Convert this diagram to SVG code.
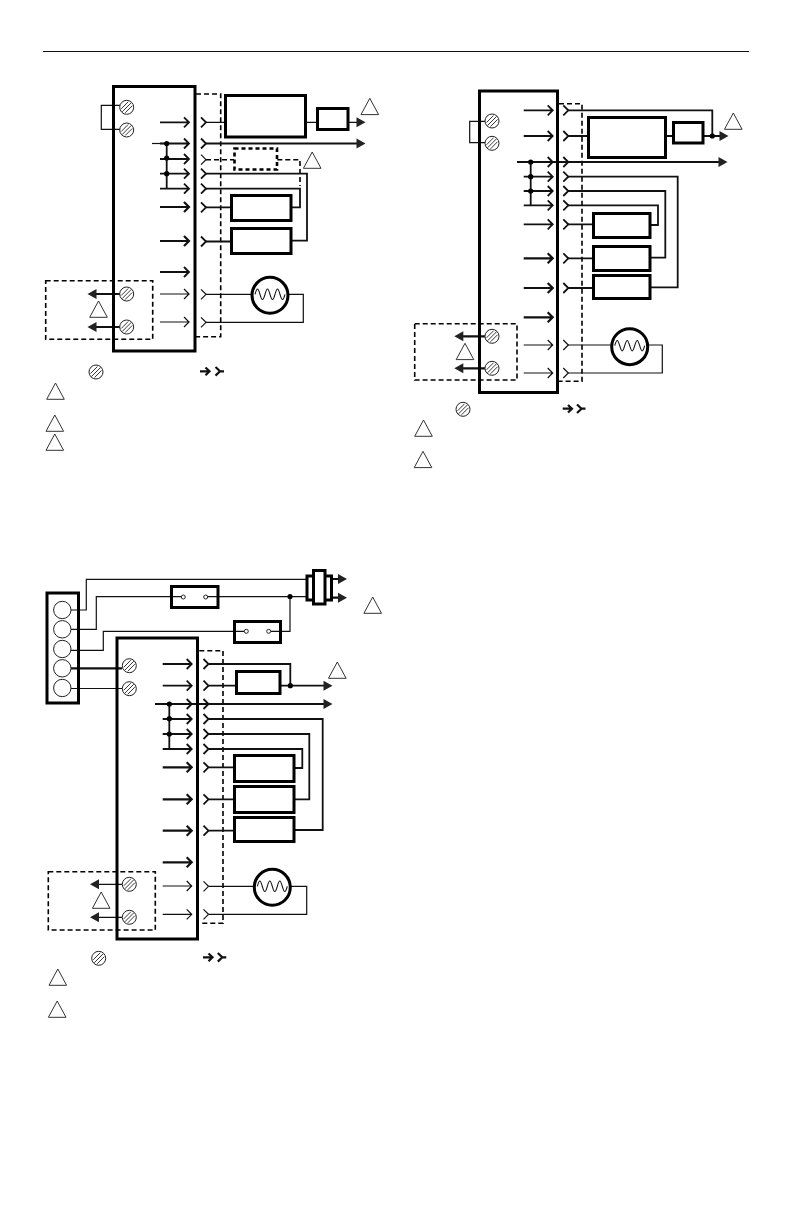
<svg xmlns="http://www.w3.org/2000/svg" xmlns:xlink="http://www.w3.org/1999/xlink" width="792" height="1224" viewBox="0 0 792 1224">
<style>
.w{fill:none;stroke:#111;stroke-width:1.2}
.m{fill:none;stroke:#111;stroke-width:1.8}
.t{fill:none;stroke:#111;stroke-width:2.2}
.box{fill:#fff;stroke:#000;stroke-width:3}
.frame{fill:none;stroke:#000;stroke-width:3}
.d2{fill:none;stroke:#000;stroke-width:1.6;stroke-dasharray:5 3}
.dbox{fill:#fff;stroke:#000;stroke-width:2.6;stroke-dasharray:4 3}
.tri{fill:#fff;stroke:#333;stroke-width:1}
.dot{fill:#000}
.head{fill:#222}
.pin{fill:#fff;stroke:#222;stroke-width:1}
.lamp{fill:#fff;stroke:#000;stroke-width:3}
.term{fill:#fff;stroke:#222;stroke-width:1}
</style>
<defs>
<g id="screw"><circle r="7" fill="#fff" stroke="#222" stroke-width="1"/><path d="M-4.5,4.5 L4.5,-4.5 M-5.5,1.5 L1.5,-5.5 M-1.5,5.5 L5.5,-1.5" fill="none" stroke="#222" stroke-width="0.9"/></g>
<g id="arrow"><path d="M-29,0 H0 M-5,-5 L0,0 L-5,5"/></g>
<g id="fem"><path d="M0,-5 L5,0 L0,5"/></g>
<path id="head" d="M0,0 L-9,-5 V5 Z"/>
<path id="tri" d="M0,0 L8.8,16.3 H-8.8 Z"/>
<g id="lampbody"><circle r="18" class="lamp"/><path d="M-15,-1 c2,-7 3,-7 5,0 s3,7 5,0 s3,-7 5,0 s3,7 5,0 s3,-7 5,0 s3,7 5,0" fill="none" stroke="#111" stroke-width="1.1"/></g>
</defs>
<rect width="792" height="1224" fill="#fff"/>
<path id="header-rule" d="M43,51.5 H749" stroke="#111" stroke-width="1" fill="none"/>

<g id="connectors">
<!-- diagram 1 -->
<path class="w" d="M120,105.3 H101.3 V129.3 H120"/>
<path class="d2" d="M196,94 H220.7 V336.7 H196"/>
<path class="w" d="M206,122.3 H225 M305.7,122.3 H317 M348,122.3 H358"/>
<path class="w" d="M152,143.5 H166.7"/>
<path class="m" d="M206,143.5 H358"/>
<path class="m" d="M166.7,143.5 V188.7"/>
<path class="d2" d="M206,159.7 H234 M277.3,159.7 H300 V186"/>
<path class="m" d="M206,173.7 H307 V240.7 H291"/>
<path class="m" d="M206,188.7 H300 V207.3 H291"/>
<path class="m" d="M206,207.3 H231 M206,241.5 H231"/>
<path class="w" d="M206,294.3 H252 M288,294.3 H303.3 V322.3 H206"/>
<path class="t" d="M120,294 H94 M120,327 H94"/>
<g class="m"><use xlink:href="#arrow" x="189" y="122.3"/><use xlink:href="#arrow" x="189" y="143.5"/><use xlink:href="#arrow" x="189" y="159"/><use xlink:href="#arrow" x="189" y="173.7"/><use xlink:href="#arrow" x="189" y="188.7"/></g>
<g class="t"><use xlink:href="#arrow" x="189" y="207"/><use xlink:href="#arrow" x="189" y="241"/></g>
<g class="m"><use xlink:href="#arrow" x="189" y="272"/></g>
<g class="w"><use xlink:href="#arrow" x="189" y="294"/><use xlink:href="#arrow" x="189" y="322"/></g>
<g class="m"><use xlink:href="#fem" x="201" y="122.3"/><use xlink:href="#fem" x="201" y="143.5"/><use xlink:href="#fem" x="201" y="173.7"/><use xlink:href="#fem" x="201" y="188.7"/><use xlink:href="#fem" x="201" y="207.3"/><use xlink:href="#fem" x="201" y="241.5"/></g>
<g class="w"><use xlink:href="#fem" x="201" y="159.7"/><use xlink:href="#fem" x="201" y="294.3"/><use xlink:href="#fem" x="201" y="322.3"/></g>
<use xlink:href="#head" class="head" x="365.5" y="122.3"/>
<use xlink:href="#head" class="head" x="365.5" y="143.5"/>
<use xlink:href="#head" class="head" transform="translate(87.5,294) rotate(180)"/>
<use xlink:href="#head" class="head" transform="translate(87.5,327) rotate(180)"/>
<circle class="dot" cx="166.7" cy="143.5" r="2.6"/><circle class="dot" cx="166.7" cy="158" r="2.6"/><circle class="dot" cx="166.7" cy="173.7" r="2.6"/>

<!-- diagram 2 -->
<path class="w" d="M485,121.3 H469.7 V142.7 H485"/>
<path class="d2" d="M559,103.7 H582 V381.3 H559"/>
<path class="m" d="M568,110.3 H712.3 V136"/>
<path class="m" d="M568,136 H588 M665.7,136 H673.3 M703,136 H720"/>
<path class="m" d="M517,162 H720"/>
<path class="m" d="M530.7,162 V205.3"/>
<path class="m" d="M568,176.7 H677.7 V287.3 H650"/>
<path class="m" d="M568,191 H665.3 V257.7 H650"/>
<path class="m" d="M568,205.3 H658 V225 H650"/>
<path class="m" d="M568,224.3 H593 M568,258.3 H593 M568,288 H593"/>
<path class="w" d="M568,345 H612 M647,345 H662.3 V373 H568"/>
<path class="t" d="M485,336.3 H462 M485,368.3 H462"/>
<g class="m"><use xlink:href="#arrow" x="552.7" y="110.3"/><use xlink:href="#arrow" x="552.7" y="136"/><use xlink:href="#arrow" x="552.7" y="162"/><use xlink:href="#arrow" x="552.7" y="176.7"/><use xlink:href="#arrow" x="552.7" y="191"/><use xlink:href="#arrow" x="552.7" y="205.3"/><use xlink:href="#arrow" x="552.7" y="224.3"/></g>
<g class="t"><use xlink:href="#arrow" x="552.7" y="258.3"/><use xlink:href="#arrow" x="552.7" y="288"/><use xlink:href="#arrow" x="552.7" y="317.3"/></g>
<g class="w"><use xlink:href="#arrow" x="552.7" y="345"/><use xlink:href="#arrow" x="552.7" y="373"/></g>
<g class="m"><use xlink:href="#fem" x="563.3" y="110.3"/><use xlink:href="#fem" x="563.3" y="136"/><use xlink:href="#fem" x="563.3" y="162"/><use xlink:href="#fem" x="563.3" y="176.7"/><use xlink:href="#fem" x="563.3" y="191"/><use xlink:href="#fem" x="563.3" y="205.3"/><use xlink:href="#fem" x="563.3" y="224.3"/><use xlink:href="#fem" x="563.3" y="258.3"/><use xlink:href="#fem" x="563.3" y="288"/></g>
<g class="w"><use xlink:href="#fem" x="563.3" y="345"/><use xlink:href="#fem" x="563.3" y="373"/></g>
<use xlink:href="#head" class="head" x="728.5" y="136"/>
<use xlink:href="#head" class="head" x="727.5" y="162"/>
<use xlink:href="#head" class="head" transform="translate(454.3,336.3) rotate(180)"/>
<use xlink:href="#head" class="head" transform="translate(454.3,368.3) rotate(180)"/>
<circle class="dot" cx="712.3" cy="136" r="2.6"/><circle class="dot" cx="530.7" cy="162" r="2.6"/><circle class="dot" cx="530.7" cy="176.7" r="2.6"/><circle class="dot" cx="530.7" cy="191" r="2.6"/>

<!-- diagram 3 -->
<path class="w" d="M70.7,610 H86.3 V579.3 H307"/>
<path class="w" d="M70.7,629.3 H96.3 V596.7 H181 M208,596.7 H307"/>
<path class="w" d="M70.7,650.3 H103.3 V631.3 H244 M271,631.3 H290 V596.7"/>
<path class="t" d="M70.7,668.3 H122"/>
<path class="w" d="M70.7,688.5 H122"/>
<path class="t" d="M331,579 H339 M331,597.7 H339"/>
<path class="d2" d="M199.3,650.7 H223 V923.3 H201"/>
<path class="m" d="M209,664 H290.3 V685.7"/>
<path class="m" d="M209,685.7 H236 M280,685.7 H325"/>
<path class="m" d="M155,704 H325"/>
<path class="m" d="M169.3,704 V749"/>
<path class="m" d="M209,719 H322.7 V830 H294"/>
<path class="m" d="M209,734 H309.3 V799.3 H294"/>
<path class="m" d="M209,749 H302.3 V768 H294"/>
<path class="m" d="M209,767.3 H234 M209,799.3 H234 M209,830.7 H234"/>
<path class="w" d="M209,886.3 H254 M290,886.3 H306.7 V914.3 H209"/>
<path class="w" d="M122,884.3 H96 M122,917.3 H96"/>
<g class="m"><use xlink:href="#arrow" x="191.7" y="664"/><use xlink:href="#arrow" x="191.7" y="685.7"/><use xlink:href="#arrow" x="191.7" y="704"/><use xlink:href="#arrow" x="191.7" y="719"/><use xlink:href="#arrow" x="191.7" y="734"/><use xlink:href="#arrow" x="191.7" y="749"/></g>
<g class="t"><use xlink:href="#arrow" x="191.7" y="767.3"/><use xlink:href="#arrow" x="191.7" y="799.3"/><use xlink:href="#arrow" x="191.7" y="830.7"/><use xlink:href="#arrow" x="191.7" y="862.3"/></g>
<g class="w"><use xlink:href="#arrow" x="191.7" y="886"/><use xlink:href="#arrow" x="191.7" y="914.3"/></g>
<g class="m"><use xlink:href="#fem" x="203.5" y="664"/><use xlink:href="#fem" x="203.5" y="685.7"/><use xlink:href="#fem" x="203.5" y="704"/><use xlink:href="#fem" x="203.5" y="719"/><use xlink:href="#fem" x="203.5" y="734"/><use xlink:href="#fem" x="203.5" y="749"/><use xlink:href="#fem" x="203.5" y="767.3"/><use xlink:href="#fem" x="203.5" y="799.3"/><use xlink:href="#fem" x="203.5" y="830.7"/></g>
<g class="w"><use xlink:href="#fem" x="203.5" y="886.3"/><use xlink:href="#fem" x="203.5" y="914.3"/></g>
<use xlink:href="#head" class="head" x="347" y="579"/>
<use xlink:href="#head" class="head" x="347" y="597.7"/>
<use xlink:href="#head" class="head" x="332.5" y="685.7"/>
<use xlink:href="#head" class="head" x="332.5" y="704"/>
<use xlink:href="#head" class="head" transform="translate(90,884.3) rotate(180)"/>
<use xlink:href="#head" class="head" transform="translate(90,917.3) rotate(180)"/>
<circle class="dot" cx="290" cy="596.5" r="2.6"/><circle class="dot" cx="290.3" cy="685.7" r="2.6"/><circle class="dot" cx="169.3" cy="704" r="2.6"/><circle class="dot" cx="169.3" cy="718.7" r="2.6"/><circle class="dot" cx="169.3" cy="734" r="2.6"/>
</g>

<!-- diagram 1 nodes -->
<g id="d1-panel"><rect class="frame" x="113.5" y="86.5" width="81.5" height="264.5"/></g>
<g id="d1-screws"><use xlink:href="#screw" x="126.7" y="107.3"/><use xlink:href="#screw" x="126.7" y="130"/><use xlink:href="#screw" x="126.7" y="294"/><use xlink:href="#screw" x="126.7" y="327"/></g>
<g id="d1-box-a"><rect class="box" x="225.5" y="95.5" width="80" height="41.5"/></g>
<g id="d1-box-b"><rect class="box" x="317.5" y="108.5" width="30.5" height="21"/></g>
<g id="d1-box-opt"><rect class="dbox" x="234.5" y="148.5" width="42.5" height="21"/></g>
<g id="d1-box-c"><rect class="box" x="231.5" y="195.5" width="59.5" height="25"/></g>
<g id="d1-box-d"><rect class="box" x="231.5" y="228.5" width="59.5" height="25"/></g>
<g id="d1-lamp"><use xlink:href="#lampbody" x="270" y="295.3"/></g>
<g id="d1-external"><rect class="d2" x="45.7" y="280.7" width="107" height="58.6"/></g>
<g id="d1-marks"><use xlink:href="#tri" class="tri" x="369.8" y="98.3"/><use xlink:href="#tri" class="tri" x="312.2" y="152"/><use xlink:href="#tri" class="tri" x="98.5" y="301"/><use xlink:href="#tri" class="tri" x="55.5" y="383"/><use xlink:href="#tri" class="tri" x="54.8" y="415"/><use xlink:href="#tri" class="tri" x="54.8" y="434"/></g>
<g id="d1-legend"><use xlink:href="#screw" x="96" y="372"/><path class="t" d="M200,371.3 H209 M205.5,367.5 L209.5,371.3 L205.5,375.2"/><path class="t" d="M215.5,367 L220,371.3 L215.5,375.6 M220,371.3 H224"/></g>

<!-- diagram 2 nodes -->
<g id="d2-panel"><rect class="frame" x="479.5" y="91" width="78" height="301.5"/></g>
<g id="d2-screws"><use xlink:href="#screw" x="492" y="121"/><use xlink:href="#screw" x="492" y="143.3"/><use xlink:href="#screw" x="492" y="336.3"/><use xlink:href="#screw" x="492" y="368.3"/></g>
<g id="d2-box-a"><rect class="box" x="588.5" y="117.5" width="77" height="40"/></g>
<g id="d2-box-b"><rect class="box" x="673.5" y="122.5" width="29.5" height="20.5"/></g>
<g id="d2-box-c"><rect class="box" x="593.5" y="213.5" width="56.5" height="24"/></g>
<g id="d2-box-d"><rect class="box" x="593.5" y="246.5" width="56.5" height="24"/></g>
<g id="d2-box-e"><rect class="box" x="593.5" y="275.5" width="56.5" height="23"/></g>
<g id="d2-lamp"><use xlink:href="#lampbody" x="629.7" y="346.7"/></g>
<g id="d2-external"><rect class="d2" x="414.7" y="323.7" width="102.3" height="56.3"/></g>
<g id="d2-marks"><use xlink:href="#tri" class="tri" x="733.3" y="113"/><use xlink:href="#tri" class="tri" x="465" y="343.3"/><use xlink:href="#tri" class="tri" x="423.5" y="420"/><use xlink:href="#tri" class="tri" x="423" y="451.3"/></g>
<g id="d2-legend"><use xlink:href="#screw" x="463" y="409.3"/><path class="t" d="M562.7,408.7 H571.5 M568,405 L572,408.7 L568,412.5"/><path class="t" d="M577,404.5 L581.5,408.7 L577,413 M581.5,408.7 H585.5"/></g>

<!-- diagram 3 nodes -->
<g id="d3-strip"><rect class="frame" x="47" y="593" width="31.5" height="110"/><circle class="term" cx="62.3" cy="610" r="8.7"/><circle class="term" cx="62.3" cy="629.3" r="8.7"/><circle class="term" cx="62.3" cy="649" r="8.7"/><circle class="term" cx="62.3" cy="668.3" r="8.7"/><circle class="term" cx="62.3" cy="688" r="8.7"/></g>
<g id="d3-switch-a"><rect class="frame" x="171.5" y="586.5" width="46.5" height="21"/><circle class="pin" cx="183.3" cy="597" r="2"/><circle class="pin" cx="205.7" cy="597" r="2"/></g>
<g id="d3-switch-b"><rect class="frame" x="234.5" y="621.5" width="46" height="21"/><circle class="pin" cx="246.3" cy="631.3" r="2"/><circle class="pin" cx="268.7" cy="631.3" r="2"/></g>
<g id="d3-valve"><rect class="box" x="307" y="576" width="24.5" height="24"/><rect class="box" x="313.5" y="570.5" width="11.5" height="33.5"/></g>
<g id="d3-panel"><rect class="frame" x="117" y="638" width="80.5" height="301"/></g>
<g id="d3-screws"><use xlink:href="#screw" x="129.3" y="665.7"/><use xlink:href="#screw" x="129.3" y="688.7"/><use xlink:href="#screw" x="129.3" y="884.3"/><use xlink:href="#screw" x="129.3" y="917.3"/></g>
<g id="d3-box-a"><rect class="box" x="236.5" y="671.5" width="43.5" height="22"/></g>
<g id="d3-box-b"><rect class="box" x="234.5" y="755.5" width="59.5" height="26"/></g>
<g id="d3-box-c"><rect class="box" x="234.5" y="786.5" width="59.5" height="26"/></g>
<g id="d3-box-d"><rect class="box" x="234.5" y="817.5" width="59.5" height="24"/></g>
<g id="d3-lamp"><use xlink:href="#lampbody" x="272.3" y="887.3"/></g>
<g id="d3-external"><rect class="d2" x="48.3" y="871.7" width="107" height="58.3"/></g>
<g id="d3-marks"><use xlink:href="#tri" class="tri" x="372.7" y="597"/><use xlink:href="#tri" class="tri" x="337.3" y="662"/><use xlink:href="#tri" class="tri" x="101.2" y="892"/><use xlink:href="#tri" class="tri" x="57.8" y="969"/><use xlink:href="#tri" class="tri" x="57.2" y="1001"/></g>
<g id="d3-legend"><use xlink:href="#screw" x="98.7" y="958.3"/><path class="t" d="M203,957.3 H212 M208.5,953.5 L212.5,957.3 L208.5,961.2"/><path class="t" d="M217.8,953 L222.3,957.3 L217.8,961.6 M222.3,957.3 H226.3"/></g>
</svg>
